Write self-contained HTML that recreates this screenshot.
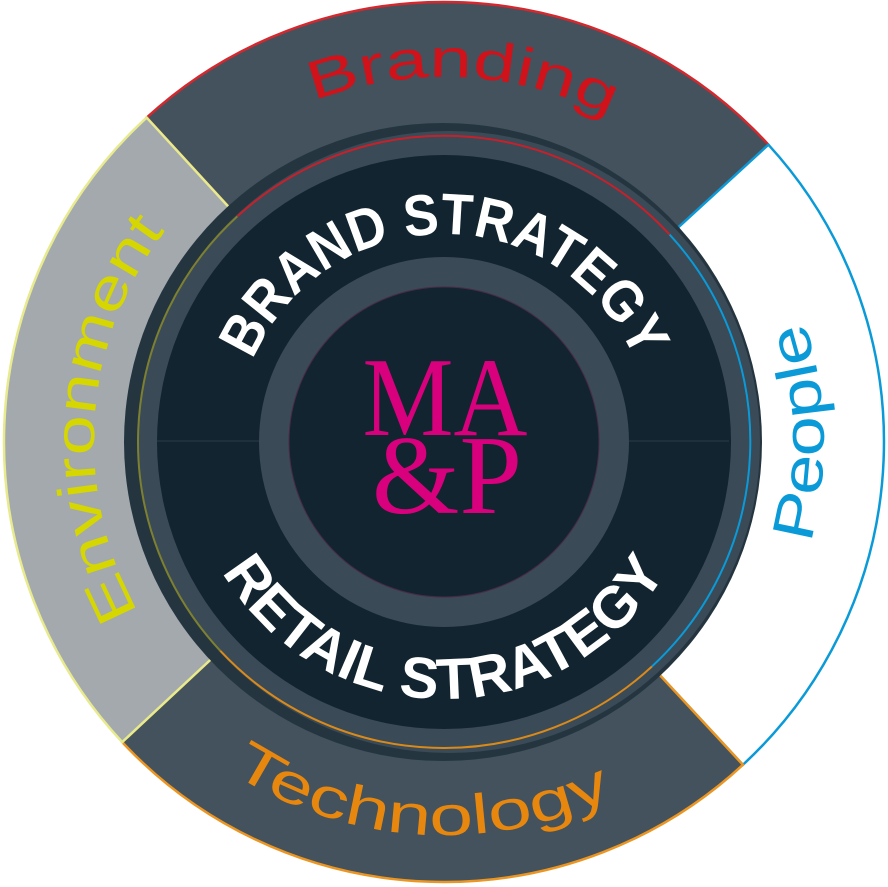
<!DOCTYPE html>
<html><head><meta charset="utf-8"><style>
html,body{margin:0;padding:0;background:#fff;}
svg{display:block;}
text{font-family:"Liberation Sans",sans-serif;}
</style></head><body>
<svg width="888" height="887" viewBox="0 0 888 887" xmlns="http://www.w3.org/2000/svg">
<defs>
<path id="pBrand" d="M79.5 421.9 A365 365 0 0 1 808.5 460.1"/>
<path id="pTech" d="M51.8 415.6 A393 393 0 0 0 836.2 466.4"/>
<path id="pPeople" d="M454 820.9 A380 380 0 0 0 434 61.1"/>
<path id="pEnv" d="M419.6 790.2 A350 350 0 0 1 468.4 91.8"/>
<path id="pBS" d="M236 441 A208 208 0 0 1 652 441"/>
<path id="pRS" d="M187 441 A257 257 0 0 0 701 441"/>
</defs>
<g transform="translate(0,1)">
<path d="M146.7 116.6 A440 440 0 0 1 768.4 143.7 L668.9 235 A305 305 0 0 0 238 216.1 Z" fill="#43525d" stroke="#d4282e" stroke-width="2.5"/>
<path d="M768.4 143.7 A440 440 0 0 1 742.9 763.8 L651.2 664.8 A305 305 0 0 0 668.9 235 Z" fill="#fff" stroke="#0a9ad8" stroke-width="2.5"/>
<path d="M742.9 763.8 A440 440 0 0 1 122.2 741.1 L220.9 649 A305 305 0 0 0 651.2 664.8 Z" fill="#43525d" stroke="#eb9622" stroke-width="2.5"/>
<path d="M122.2 741.1 A440 440 0 0 1 146.7 116.6 L238 216.1 A305 305 0 0 0 220.9 649 Z" fill="#a3a9ad" stroke="#e8ea8e" stroke-width="2.5"/>
<circle cx="443" cy="441" r="319" fill="#243540"/>
<circle cx="449" cy="441" r="311" fill="#3a4a56"/>
<circle cx="444" cy="441" r="287" fill="#12242f"/>
<path d="M237.3 215.4 A306 306 0 0 1 669.6 233.6" fill="none" stroke="#c8202a" stroke-width="2"/>
<path d="M669.6 233.6 A306 306 0 0 1 651.9 665.5" fill="none" stroke="#0a9ad8" stroke-width="2"/>
<path d="M651.9 665.5 A306 306 0 0 1 220.2 649.7" fill="none" stroke="#d98a1a" stroke-width="2"/>
<path d="M220.2 649.7 A306 306 0 0 1 237.3 215.4" fill="none" stroke="#7d8030" stroke-width="2"/>
<line x1="157" y1="440" x2="729" y2="440" stroke="#2c3c48" stroke-width="1"/>
<circle cx="444" cy="441" r="185" fill="#3a4a56"/>
<circle cx="444" cy="441" r="155" fill="#12242f" stroke="#4a2a48" stroke-width="1"/>
<text x="445" y="434" font-size="112" fill="#d9007e" text-anchor="middle" textLength="165" lengthAdjust="spacingAndGlyphs" style="font-family:'Liberation Serif',serif">MA</text>
<text x="447" y="512" font-size="112" fill="#d9007e" text-anchor="middle" textLength="150" lengthAdjust="spacingAndGlyphs" style="font-family:'Liberation Serif',serif">&amp;P</text>
<text font-size="58" font-weight="bold" fill="#fff"><textPath href="#pBS" startOffset="50%" text-anchor="middle" textLength="485" lengthAdjust="spacingAndGlyphs">BRAND STRATEGY</textPath></text>
<text font-size="58" font-weight="bold" fill="#fff"><textPath href="#pRS" startOffset="50%" text-anchor="middle" textLength="535" lengthAdjust="spacingAndGlyphs">RETAIL STRATEGY</textPath></text>
<text font-size="54" fill="#d0121b"><textPath href="#pBrand" startOffset="50%" text-anchor="middle" textLength="305" lengthAdjust="spacingAndGlyphs">Branding</textPath></text>
<text font-size="56" fill="#e8870e"><textPath href="#pTech" startOffset="50%" text-anchor="middle" textLength="400" lengthAdjust="spacingAndGlyphs">Technology</textPath></text>
<text font-size="58" fill="#0a9ad8"><textPath href="#pPeople" startOffset="50%" text-anchor="middle" textLength="225" lengthAdjust="spacingAndGlyphs">People</textPath></text>
<text font-size="56" fill="#d6d600"><textPath href="#pEnv" startOffset="50%" text-anchor="middle" textLength="405" lengthAdjust="spacingAndGlyphs">Environment</textPath></text>
</g>
</svg>
</body></html>
